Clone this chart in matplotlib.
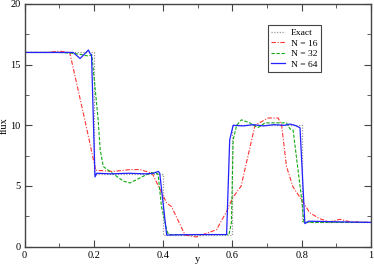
import matplotlib
matplotlib.use("Agg")
import matplotlib.pyplot as plt
from matplotlib.ticker import MultipleLocator, FuncFormatter

plt.rcParams['font.family'] = ['Liberation Serif', 'DejaVu Serif']

exact_x = [0.0, 0.2, 0.2, 0.4, 0.4, 0.6, 0.6, 0.8, 0.8, 1.0]
exact_y = [16, 16, 6, 6, 1, 1, 10, 10, 2, 2]

n16_x = [0.0, 0.06, 0.1, 0.13, 0.174, 0.205, 0.256, 0.304, 0.333, 0.368, 0.41, 0.424,
         0.463, 0.496, 0.554, 0.583, 0.6, 0.625, 0.645, 0.665, 0.703, 0.732, 0.742,
         0.756, 0.775, 0.80, 0.823, 0.852, 0.88, 0.91, 0.94, 1.0]
n16_y = [16.0, 16.0, 16.1, 16.0, 10.4, 6.3, 6.2, 6.35, 6.35, 6.05, 3.6, 3.3,
         0.96, 0.8, 1.4, 2.9, 4.0, 5.0, 7.5, 10.0, 10.6, 10.6, 10.0,
         6.6, 4.9, 3.85, 2.8, 2.3, 2.05, 2.25, 2.05, 2.0]

n32_x = [0.0, 0.1, 0.131, 0.16, 0.184, 0.194, 0.212, 0.218, 0.227, 0.246, 0.285, 0.304,
         0.342, 0.366, 0.385, 0.395, 0.41, 0.415, 0.59, 0.597, 0.602, 0.612, 0.626, 0.65,
         0.673, 0.694, 0.737, 0.756, 0.766, 0.775, 0.80, 0.806, 0.85, 1.0]
n32_y = [16.0, 16.0, 15.95, 15.85, 15.7, 15.8, 10.5, 8.0, 6.6, 6.2, 5.4, 5.25,
         5.8, 6.1, 6.0, 3.3, 1.4, 1.0, 1.0, 2.0, 8.8, 10.0, 10.45, 10.2,
         9.8, 10.2, 10.2, 10.2, 9.7, 9.6, 3.85, 2.0, 2.0, 2.0]

n64_x = [0.0, 0.126, 0.14, 0.16, 0.184, 0.189, 0.193, 0.203, 0.208, 0.25, 0.3, 0.35,
         0.371, 0.386, 0.39, 0.41, 0.5, 0.583, 0.592, 0.602, 0.63, 0.66, 0.69, 0.72,
         0.75, 0.766, 0.78, 0.795, 0.809, 0.82, 0.9, 1.0]
n64_y = [16.0, 16.0, 16.0, 15.5, 16.2, 15.9, 15.8, 5.75, 6.05, 6.0, 6.05, 6.0,
         6.05, 6.2, 6.05, 0.96, 1.0, 1.0, 8.8, 10.0, 9.95, 10.05, 9.95, 10.05,
         10.0, 10.1, 10.0, 9.8, 1.9, 2.1, 2.05, 2.0]

fig = plt.figure(figsize=(3.74, 2.68), dpi=100)
ax = fig.add_axes([0.066, 0.0795, 0.926, 0.906])

ax.plot(exact_x, exact_y, color='#999999', linestyle=(0, (1, 1.2)), linewidth=0.9, label='Exact')
ax.plot(n16_x, n16_y, color='#ff3333', linestyle=(0, (4, 1.5, 1, 1.5)), linewidth=0.8, label='N = 16')
ax.plot(n32_x, n32_y, color='#11aa11', linestyle=(0, (3, 1.5)), linewidth=0.8, label='N = 32')
ax.plot(n64_x, n64_y, color='#2222ff', linestyle='-', linewidth=0.9, label='N = 64')

ax.set_xlim(0, 1)
ax.set_ylim(0, 20)
ax.xaxis.set_major_locator(MultipleLocator(0.2))
ax.xaxis.set_minor_locator(MultipleLocator(0.1))
ax.yaxis.set_major_locator(MultipleLocator(5))
ax.yaxis.set_minor_locator(MultipleLocator(2.5))
ax.xaxis.set_major_formatter(FuncFormatter(lambda v, p: '%g' % v))
ax.tick_params(which='both', direction='in', top=True, right=True, labelsize=7.5,
               color='#444444', pad=3)
ax.tick_params(which='major', length=5)
ax.tick_params(which='minor', length=3)
for s in ax.spines.values():
    s.set_color('#444444')
    s.set_linewidth(1.0)

ax.set_xlabel('y', fontsize=7.5)
ax.set_ylabel('flux', fontsize=7.5)
ax.xaxis.set_label_coords(0.5, -0.035)
ax.yaxis.set_label_coords(-0.046, 0.5)

leg = ax.legend(loc='upper left', bbox_to_anchor=(0.688, 0.932), fontsize=6.8,
                fancybox=False, framealpha=1, edgecolor='#444444',
                handlelength=1.5, handletextpad=0.6, labelspacing=0.2,
                borderpad=0.35)
leg.get_frame().set_linewidth(0.8)

fig.savefig('out.png', dpi=100)
